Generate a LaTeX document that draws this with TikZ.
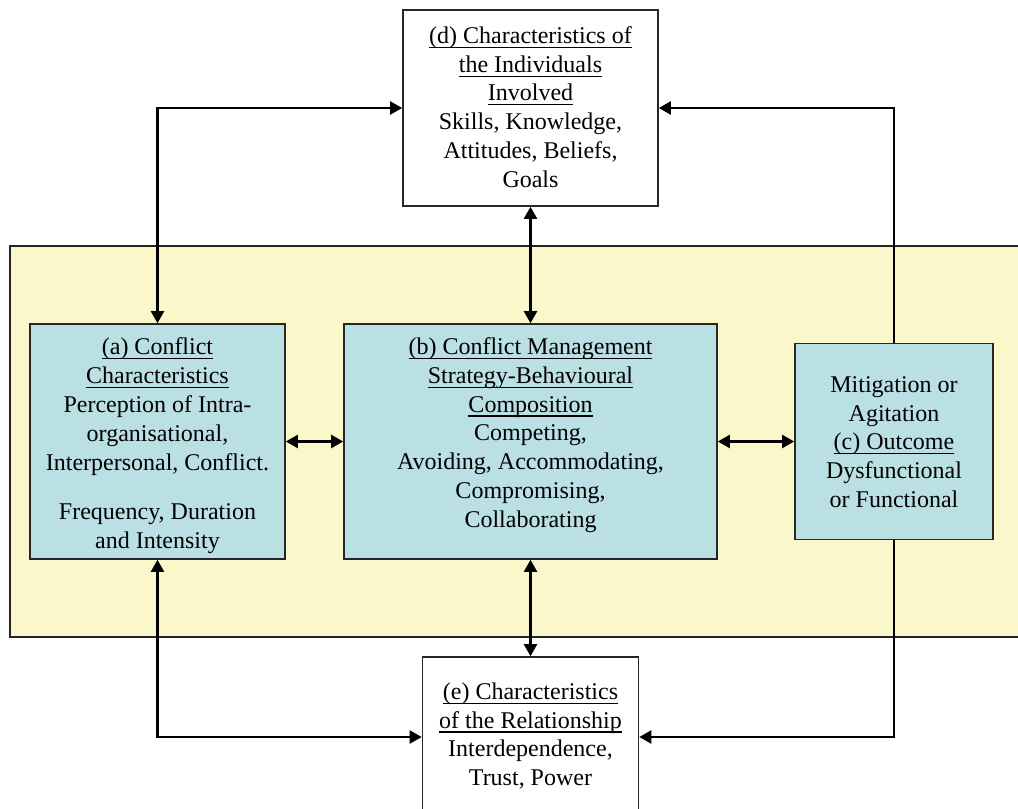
\documentclass[tikz,border=0pt]{standalone}
\usepackage{fontspec}
\setmainfont{Liberation Serif}
\usetikzlibrary{arrows.meta}
\definecolor{bgyellow}{RGB}{250,248,202}
\definecolor{boxblue}{RGB}{186,224,228}
\newsavebox\ulbox
\newcommand\myul[1]{\sbox\ulbox{#1}\rlap{\rule[-4.5pt]{\wd\ulbox}{1.1pt}}\usebox\ulbox}
\tikzset{
  box/.style={draw=black!85, line width=1.6pt, inner sep=0pt},
  bluebox/.style={box, fill=boxblue},
  whitebox/.style={box, fill=white},
  txt/.style={align=center, font=\fontsize{24}{28.8}\selectfont, inner sep=0pt},
  conn/.style={line width=2.2pt, {Triangle[length=12pt,width=13pt]}-{Triangle[length=12pt,width=13pt]}},
  conn1/.style={line width=2.2pt, -{Triangle[length=12pt,width=13pt]}},
}
\begin{document}
\begin{tikzpicture}[x=1pt,y=-1pt]
\useasboundingbox (0,0) rectangle (1018,809);
% background band
\node[box, fill=bgyellow, minimum width=1030pt, minimum height=391pt] (band) at (525,441.5) {};
% boxes
\node[whitebox, minimum width=255pt, minimum height=196pt] (d) at (530.5,108) {};
\node[bluebox, minimum width=255pt, minimum height=235pt] (a) at (157.5,441.5) {};
\node[bluebox, minimum width=373pt, minimum height=235pt] (b) at (530.5,441.5) {};
\node[bluebox, minimum width=198pt, minimum height=196pt] (c) at (894,441.5) {};
\node[whitebox, minimum width=216pt, minimum height=160pt] (e) at (530.5,737) {};
% texts
\node[txt] (dtext) at (530.5,107) {\myul{(d) Characteristics of}\\ \myul{the Individuals}\\ \myul{Involved}\\ Skills, Knowledge,\\ Attitudes, Beliefs,\\ Goals};
\node[txt] (atext) at (157.5,446) {\myul{(a) Conflict}\\ \myul{Characteristics}\\ Perception of Intra-\\ organisational,\\ Interpersonal, Conflict.\\[21pt] Frequency, Duration\\ and Intensity};
\node[txt] (btext) at (530.5,435) {\myul{(b) Conflict Management}\\ \myul{Strategy-Behavioural}\\ \myul{Composition}\\ Competing,\\ Avoiding, Accommodating,\\ Compromising,\\ Collaborating};
\node[txt] (ctext) at (894,442) {Mitigation or\\ Agitation\\ \myul{(c) Outcome}\\ Dysfunctional\\ or Functional};
\node[txt] (etext) at (530.5,736) {\myul{(e) Characteristics}\\ \myul{of the Relationship}\\ Interdependence,\\ Trust, Power};
% connectors
\draw[conn] (a.north) |- (d.west);
\draw[conn1] (c.north) |- (d.east);
\draw[conn] (d.south) -- (b.north);
\draw[conn] (a.east) -- (b.west);
\draw[conn] (b.east) -- (c.west);
\draw[conn] (b.south) -- (e.north);
\draw[conn] (a.south) |- (e.west);
\draw[conn1] (c.south) |- (e.east);
\end{tikzpicture}
\end{document}
